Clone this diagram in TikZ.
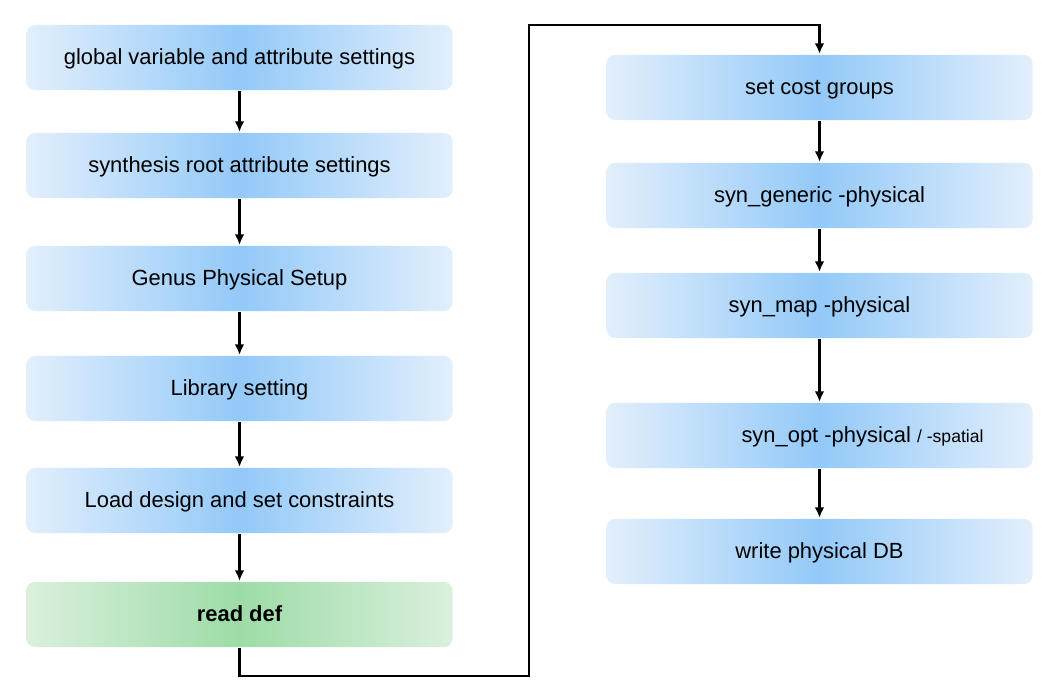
\documentclass[tikz,border=0pt]{standalone}
\usepackage{fontspec}
\setmainfont{Liberation Sans}
\usetikzlibrary{arrows.meta}
\definecolor{blueedge}{HTML}{E2EFFC}
\definecolor{bluemid}{HTML}{93C9F8}
\definecolor{greenedge}{HTML}{DAF0DD}
\definecolor{greenmid}{HTML}{9DDCA7}
\begin{document}
\begin{tikzpicture}[x=0.025cm,y=-0.025cm,line width=1.6pt]
		\tikzset{stepbox/.style = {rounded corners=6pt, minimum width=10.65cm, minimum height=1.625cm,
				text height=12pt, text depth=1.4pt,
				left color=blueedge, right color=blueedge, middle color=bluemid,
				font=\fontsize{15.6}{18}\selectfont}}
		\tikzset{defbox/.style = {stepbox, left color=greenedge, right color=greenedge, middle color=greenmid,
				font=\fontsize{15.6}{18}\selectfont\bfseries}}
		\tikzset{edge/.style = {draw, -{Latex[length=2.6mm,width=2.4mm]}}}
		
		\useasboundingbox (0,0) rectangle (1056,690);
		
		% left column
		\node[stepbox] (gv) at (239.5,57.5) {global variable and attribute settings};
		\node[stepbox] (sr) at (239.5,165.5) {synthesis root attribute settings};
		\node[stepbox] (gp) at (239.5,278.5) {Genus Physical Setup};
		\node[stepbox] (ls) at (239.5,388.5) {Library setting};
		\node[stepbox] (ld) at (239.5,500.5) {Load design and set constraints};
		\node[defbox] (rd) at (239.5,614.5) {read def};
		
		% right column
		\node[stepbox] (cg) at (819.5,87.5) {set cost groups};
		\node[stepbox] (sg) at (819.5,195.5) {syn\_generic -physical};
		\node[stepbox] (sm) at (819.5,305.5) {syn\_map -physical};
		\node[stepbox] (so) at (819.5,435.5) {\hspace*{2.15cm}syn\_opt -physical {\fontsize{12.5}{15}\selectfont / -spatial}};
		\node[stepbox] (wp) at (819.5,551.5) {write physical DB};
		
		% corners of the long connector
		\coordinate (c1) at (239.5,676);
		\coordinate (c2) at (529,676);
		\coordinate (c3) at (529,25);
		\coordinate (c4) at (819.5,25);
		
		% edges
		\draw[edge] (gv) -- (sr);
		\draw[edge] (sr) -- (gp);
		\draw[edge] (gp) -- (ls);
		\draw[edge] (ls) -- (ld);
		\draw[edge] (ld) -- (rd);
		\draw[edge] (rd) -- (c1) -- (c2) -- (c3) -- (c4) -- (cg);
		\draw[edge] (cg) -- (sg);
		\draw[edge] (sg) -- (sm);
		\draw[edge] (sm) -- (so);
		\draw[edge] (so) -- (wp);
		\end{tikzpicture}
\end{document}
